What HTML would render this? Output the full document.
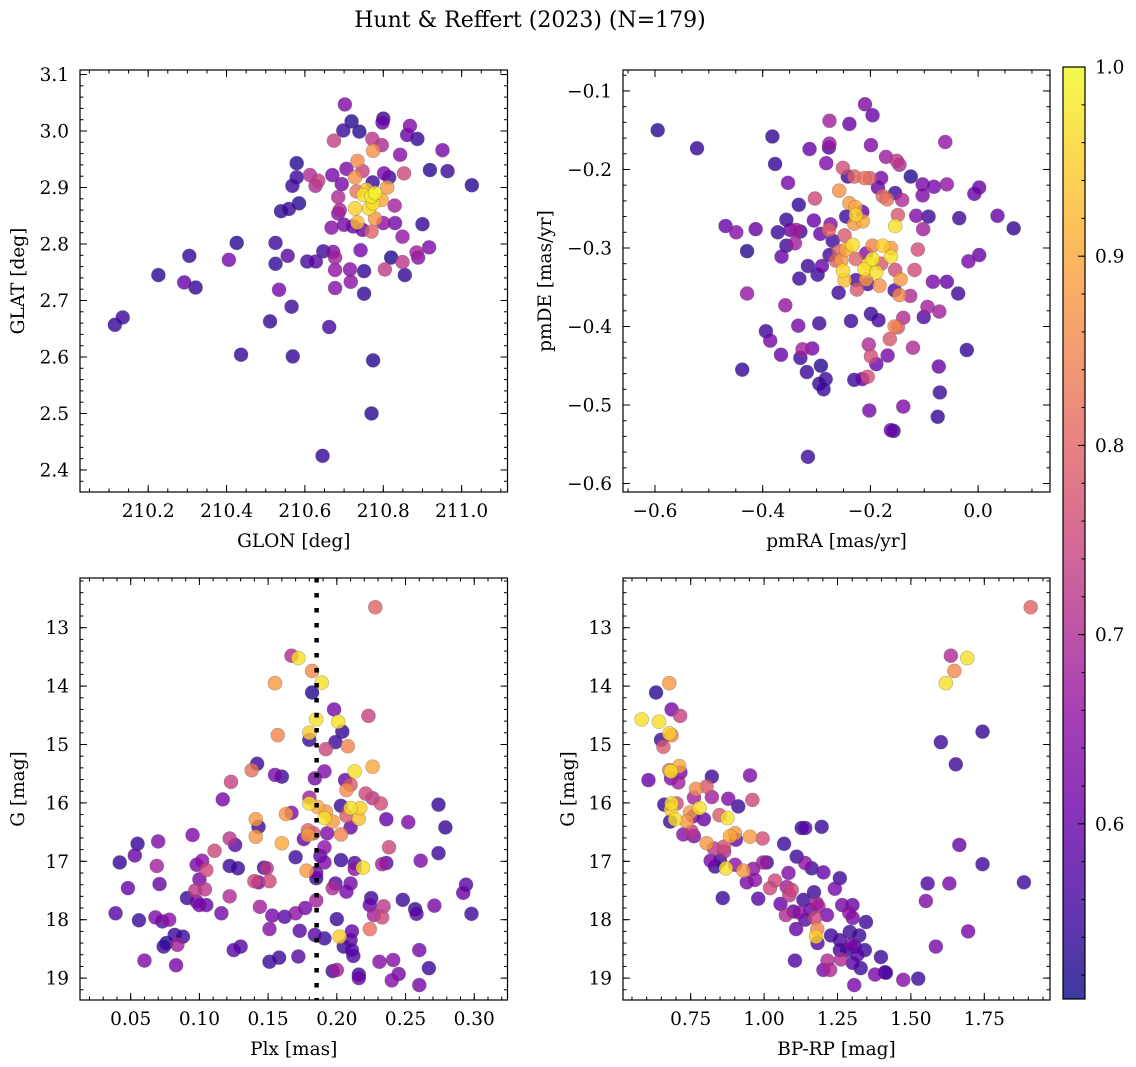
<!DOCTYPE html>
<html><head><meta charset="utf-8"><style>
html,body{margin:0;padding:0;background:#fff;}
svg{display:block;font-family:"DejaVu Serif","Liberation Serif",serif;}
</style></head><body>
<svg id="fig" width="1136" height="1067" viewBox="0 0 1136 1067" xmlns="http://www.w3.org/2000/svg">
<text x="530" y="27" font-size="22" text-anchor="middle">Hunt &amp; Reffert (2023) (N=179)</text>
</svg>
<script>
// ---- Panel 1: GLON vs GLAT ----
const p1Glon=[210.702,210.719,210.800,210.798,210.698,210.739,210.868,210.861,210.887,210.674,210.772,210.796,210.774,210.951,210.843,210.579,210.613,210.634,210.627,210.579,210.568,210.734,210.706,210.747,210.728,210.670,210.694,210.802,210.815,210.853,210.919,210.964,211.026,210.773,210.810,210.749,210.770,210.774,210.764,210.728,210.779,210.757,210.796,210.732,210.685,210.829,210.689,210.685,210.539,210.559,210.585,210.734,210.779,210.800,210.830,210.700,210.668,210.723,210.747,210.770,210.900,210.849,210.426,210.525,210.305,210.406,210.556,210.525,210.606,210.628,210.647,210.672,210.677,210.742,210.820,210.885,210.889,210.917,210.226,210.292,210.321,210.677,210.715,210.751,210.804,210.849,210.855,210.534,210.677,210.717,210.751,210.115,210.135,210.511,210.566,210.662,210.437,210.569,210.774,210.770,210.645];
const p1Glat=[3.047,3.017,3.022,3.015,3.001,2.999,3.009,2.993,2.986,2.983,2.986,2.975,2.965,2.966,2.958,2.943,2.922,2.912,2.903,2.918,2.903,2.947,2.933,2.929,2.918,2.922,2.906,2.925,2.918,2.925,2.931,2.929,2.904,2.909,2.900,2.887,2.884,2.872,2.863,2.863,2.890,2.896,2.878,2.893,2.883,2.868,2.860,2.854,2.858,2.862,2.872,2.838,2.845,2.837,2.837,2.834,2.829,2.831,2.825,2.822,2.835,2.813,2.802,2.802,2.779,2.772,2.779,2.765,2.769,2.769,2.787,2.786,2.776,2.789,2.776,2.785,2.776,2.794,2.745,2.732,2.723,2.754,2.755,2.752,2.755,2.768,2.745,2.719,2.722,2.733,2.712,2.657,2.670,2.663,2.689,2.653,2.604,2.601,2.594,2.500,2.425];
const p1Prob=[.63,.53,.55,.6,.55,.53,.63,.6,.54,.74,.72,.7,.87,.62,.64,.53,.7,.73,.7,.55,.55,.86,.63,.74,.87,.62,.62,.62,.55,.75,.53,.55,.53,.55,.88,.97,.98,.97,.96,.95,.99,.94,.9,.82,.7,.68,.69,.65,.54,.55,.53,.92,.87,.65,.62,.62,.64,.6,.6,.8,.54,.66,.53,.55,.54,.62,.58,.54,.56,.58,.55,.63,.68,.62,.52,.68,.64,.63,.53,.6,.54,.66,.64,.54,.73,.72,.54,.62,.64,.65,.54,.54,.55,.54,.55,.56,.54,.54,.53,.53,.54];

// ---- Panel 2: pmRA vs pmDE ----
const p2PmRA=[-0.210,-0.196,-0.276,-0.239,-0.595,-0.522,-0.382,-0.313,-0.276,-0.277,-0.199,-0.061,-0.377,-0.282,-0.171,-0.151,-0.146,-0.251,-0.242,-0.230,-0.211,-0.201,-0.180,-0.125,-0.353,-0.103,-0.082,-0.058,-0.186,-0.258,-0.154,-0.007,0.002,-0.103,-0.303,-0.177,-0.169,-0.141,-0.333,-0.239,-0.228,-0.227,-0.215,-0.245,-0.149,-0.115,-0.092,-0.035,0.036,-0.356,-0.469,-0.449,-0.413,-0.372,-0.349,-0.338,-0.330,-0.305,-0.274,-0.277,-0.230,-0.214,-0.154,-0.102,0.066,-0.293,-0.248,-0.270,-0.356,-0.340,-0.429,-0.365,-0.276,-0.233,-0.245,-0.196,-0.177,-0.162,-0.112,-0.208,-0.258,-0.264,-0.254,-0.196,-0.162,-0.203,-0.227,-0.180,-0.316,-0.290,-0.018,0.002,-0.118,-0.154,-0.251,-0.211,-0.189,-0.298,-0.332,-0.248,-0.227,-0.208,-0.183,-0.144,-0.205,-0.084,-0.058,-0.429,-0.259,-0.225,-0.155,-0.146,-0.126,-0.037,-0.358,-0.094,-0.072,-0.101,-0.199,-0.185,-0.139,-0.236,-0.295,-0.334,-0.394,-0.386,-0.155,-0.149,-0.164,-0.203,-0.121,-0.021,-0.366,-0.326,-0.308,-0.330,-0.199,-0.168,-0.189,-0.073,-0.438,-0.318,-0.292,-0.283,-0.230,-0.215,-0.205,-0.295,-0.287,-0.071,-0.202,-0.139,-0.075,-0.162,-0.157,-0.316];
const p2PmDE=[-0.117,-0.131,-0.138,-0.142,-0.150,-0.173,-0.158,-0.174,-0.167,-0.172,-0.169,-0.165,-0.193,-0.192,-0.184,-0.189,-0.194,-0.198,-0.209,-0.209,-0.211,-0.211,-0.211,-0.209,-0.217,-0.219,-0.222,-0.219,-0.223,-0.227,-0.230,-0.231,-0.223,-0.233,-0.237,-0.234,-0.238,-0.239,-0.245,-0.243,-0.248,-0.258,-0.254,-0.260,-0.258,-0.259,-0.260,-0.262,-0.259,-0.264,-0.272,-0.280,-0.276,-0.280,-0.277,-0.277,-0.279,-0.265,-0.270,-0.277,-0.269,-0.266,-0.272,-0.276,-0.275,-0.282,-0.284,-0.291,-0.297,-0.294,-0.304,-0.311,-0.309,-0.296,-0.302,-0.297,-0.297,-0.300,-0.302,-0.307,-0.304,-0.316,-0.316,-0.314,-0.311,-0.320,-0.314,-0.320,-0.323,-0.323,-0.317,-0.309,-0.328,-0.328,-0.329,-0.327,-0.331,-0.334,-0.339,-0.341,-0.341,-0.340,-0.348,-0.340,-0.346,-0.343,-0.343,-0.358,-0.357,-0.353,-0.354,-0.360,-0.361,-0.358,-0.373,-0.375,-0.381,-0.388,-0.384,-0.392,-0.389,-0.393,-0.396,-0.399,-0.406,-0.418,-0.400,-0.401,-0.416,-0.423,-0.427,-0.430,-0.436,-0.429,-0.428,-0.440,-0.438,-0.437,-0.448,-0.451,-0.455,-0.458,-0.450,-0.467,-0.468,-0.467,-0.464,-0.473,-0.480,-0.484,-0.507,-0.502,-0.515,-0.532,-0.533,-0.566];
const p2Prob=[.63,.6,.68,.6,.53,.54,.54,.6,.67,.57,.63,.66,.54,.63,.67,.72,.7,.76,.55,.8,.82,.78,.62,.53,.62,.62,.62,.66,.6,.87,.55,.6,.6,.63,.75,.8,.82,.7,.54,.88,.9,.96,.6,.55,.78,.63,.55,.55,.6,.54,.6,.64,.6,.55,.6,.68,.55,.6,.63,.8,.88,.9,.97,.68,.54,.6,.78,.55,.55,.68,.53,.6,.56,.97,.9,.85,.95,.88,.76,.64,.8,.8,.88,.98,.97,.96,.8,.78,.55,.6,.62,.6,.76,.76,.96,.97,.97,.55,.55,.93,.57,.88,.87,.88,.56,.62,.6,.66,.55,.78,.57,.86,.7,.55,.66,.68,.68,.57,.55,.56,.7,.55,.55,.62,.55,.62,.85,.78,.78,.7,.7,.54,.6,.68,.62,.55,.76,.62,.6,.6,.54,.55,.53,.55,.55,.6,.76,.55,.55,.55,.62,.63,.54,.6,.54,.55];

// ---- Panel 3: Plx vs G ----
const p3Plx=[0.228,0.167,0.172,0.182,0.155,0.189,0.182,0.198,0.223,0.185,0.201,0.204,0.157,0.180,0.180,0.199,0.208,0.192,0.142,0.138,0.226,0.213,0.155,0.160,0.191,0.184,0.206,0.210,0.207,0.123,0.221,0.226,0.232,0.117,0.180,0.180,0.186,0.203,0.210,0.217,0.192,0.167,0.163,0.274,0.207,0.216,0.191,0.197,0.236,0.252,0.141,0.143,0.210,0.279,0.179,0.183,0.179,0.193,0.203,0.095,0.122,0.141,0.176,0.055,0.070,0.126,0.160,0.238,0.191,0.111,0.053,0.274,0.170,0.188,0.042,0.069,0.098,0.102,0.105,0.191,0.203,0.213,0.219,0.213,0.233,0.236,0.261,0.122,0.128,0.147,0.149,0.178,0.185,0.185,0.100,0.140,0.143,0.151,0.071,0.048,0.097,0.104,0.199,0.210,0.197,0.207,0.294,0.292,0.091,0.122,0.225,0.224,0.248,0.185,0.098,0.100,0.105,0.144,0.177,0.170,0.234,0.227,0.233,0.257,0.258,0.271,0.298,0.039,0.116,0.153,0.162,0.068,0.056,0.073,0.078,0.200,0.151,0.173,0.224,0.184,0.191,0.202,0.211,0.210,0.082,0.088,0.076,0.074,0.084,0.130,0.125,0.205,0.211,0.212,0.260,0.060,0.151,0.158,0.172,0.231,0.241,0.083,0.197,0.200,0.267,0.216,0.216,0.245,0.240,0.260];
const p3G=[12.65,13.48,13.52,13.74,13.95,13.94,14.11,14.40,14.51,14.57,14.61,14.78,14.84,14.80,14.92,14.96,15.03,15.08,15.33,15.44,15.38,15.46,15.52,15.55,15.46,15.58,15.61,15.69,15.78,15.64,15.84,15.92,16.01,15.94,15.91,16.01,16.07,16.05,16.09,16.09,16.15,16.17,16.19,16.03,16.22,16.27,16.26,16.32,16.28,16.33,16.28,16.41,16.42,16.42,16.47,16.52,16.55,16.52,16.54,16.55,16.61,16.58,16.62,16.70,16.66,16.72,16.69,16.76,16.76,16.82,16.90,16.86,16.93,16.91,17.02,17.08,17.06,16.99,17.15,17.02,16.98,17.03,17.11,17.13,17.05,17.03,16.99,17.08,17.12,17.11,17.12,17.16,17.20,17.29,17.31,17.34,17.36,17.34,17.39,17.46,17.50,17.48,17.38,17.38,17.46,17.52,17.40,17.54,17.63,17.60,17.63,17.75,17.66,17.67,17.69,17.75,17.75,17.78,17.80,17.89,17.77,17.92,17.96,17.82,17.90,17.76,17.90,17.89,17.89,17.93,17.95,17.96,18.01,18.03,18.00,17.99,18.16,18.19,18.16,18.26,18.32,18.29,18.20,18.35,18.26,18.29,18.40,18.46,18.43,18.46,18.52,18.46,18.52,18.62,18.52,18.70,18.72,18.65,18.63,18.72,18.69,18.78,18.88,18.86,18.83,18.94,19.00,18.93,19.04,19.12];
const p3Prob=[.8,.7,.97,.86,.88,.97,.53,.62,.74,.97,.97,.54,.85,.95,.55,.55,.85,.75,.55,.82,.9,.97,.62,.55,.63,.62,.6,.78,.86,.74,.75,.72,.76,.62,.68,.97,.9,.55,.97,.95,.88,.63,.88,.54,.78,.93,.97,.88,.6,.63,.88,.55,.6,.54,.8,.78,.88,.63,.85,.63,.72,.88,.6,.54,.63,.58,.9,.75,.65,.75,.6,.55,.55,.58,.54,.68,.62,.65,.75,.63,.55,.58,.97,.65,.68,.58,.63,.55,.55,.55,.72,.88,.6,.55,.62,.75,.62,.75,.6,.6,.72,.72,.57,.62,.7,.62,.58,.6,.55,.7,.55,.6,.55,.68,.62,.62,.6,.68,.62,.65,.72,.68,.75,.55,.58,.62,.55,.58,.62,.62,.58,.63,.55,.58,.65,.55,.64,.58,.82,.58,.55,.95,.6,.58,.55,.55,.52,.55,.68,.58,.58,.55,.58,.57,.62,.63,.55,.55,.58,.64,.64,.62,.55,.68,.55,.55,.6,.62,.64,.62];

// ---- Panel 4: BP-RP vs G ----
const p4Color=[1.908,1.636,1.692,1.648,1.619,0.677,0.632,0.685,0.714,0.583,0.642,1.744,0.685,0.677,0.649,1.602,0.657,1.653,0.677,0.711,0.683,0.715,0.606,0.683,0.708,0.822,0.952,0.804,0.768,0.761,0.822,0.878,0.960,0.912,0.660,0.702,0.685,0.683,0.780,0.748,0.759,0.795,0.848,0.875,0.736,0.680,0.697,0.753,0.725,0.761,0.901,0.884,0.952,0.995,0.904,1.128,1.140,1.196,0.804,0.829,0.863,0.864,1.068,1.665,0.818,0.833,0.850,0.870,0.901,0.929,0.963,0.997,1.009,1.111,1.140,1.162,1.202,1.083,1.744,0.941,0.969,1.037,1.020,1.077,1.094,1.241,1.258,1.086,0.859,0.980,1.170,1.134,1.056,1.179,1.185,1.266,1.301,1.100,1.120,1.157,1.074,1.140,1.174,1.214,1.290,1.302,1.347,1.109,1.181,1.177,1.182,1.228,1.258,1.292,1.324,1.258,1.281,1.296,1.309,1.318,1.343,1.262,1.302,1.216,1.202,1.225,1.105,1.329,1.398,1.378,1.412,1.415,1.474,1.525,1.307,1.557,1.631,1.885,1.551,1.695,1.585];
const p4G=[12.65,13.48,13.52,13.74,13.95,13.95,14.11,14.40,14.51,14.57,14.61,14.78,14.84,14.81,14.92,14.96,15.04,15.34,15.44,15.37,15.46,15.48,15.61,15.58,15.65,15.55,15.53,15.72,15.76,15.91,15.90,15.93,15.95,16.06,16.03,16.01,16.01,16.11,16.09,16.16,16.23,16.28,16.21,16.26,16.32,16.32,16.28,16.49,16.54,16.57,16.52,16.57,16.58,16.61,16.63,16.43,16.43,16.41,16.69,16.78,16.75,16.83,16.70,16.72,16.99,17.09,16.99,17.12,17.06,17.16,17.13,17.02,17.02,16.92,17.03,17.12,17.19,17.20,17.05,17.36,17.32,17.33,17.46,17.44,17.49,17.47,17.29,17.58,17.63,17.64,17.53,17.66,17.73,17.72,17.77,17.75,17.75,17.86,17.88,17.83,17.92,18.00,17.97,17.92,17.88,17.97,18.04,18.16,18.16,18.29,18.40,18.27,18.35,18.21,18.27,18.52,18.52,18.43,18.46,18.60,18.52,18.68,18.74,18.70,18.86,18.86,18.70,18.83,18.64,18.94,18.90,18.91,19.03,19.01,19.12,17.38,17.38,17.36,17.68,18.20,18.46];
const p4Prob=[.8,.7,.97,.86,.97,.88,.53,.62,.74,.97,.97,.54,.85,.95,.55,.55,.78,.55,.82,.9,.97,.62,.6,.63,.68,.55,.63,.78,.86,.68,.68,.63,.75,.55,.55,.75,.97,.95,.97,.88,.62,.6,.78,.97,.88,.55,.97,.72,.64,.63,.88,.9,.88,.76,.6,.55,.58,.55,.88,.72,.76,.7,.55,.6,.62,.55,.55,.97,.65,.88,.65,.68,.55,.55,.65,.55,.6,.63,.55,.62,.65,.75,.75,.68,.75,.62,.55,.72,.55,.58,.55,.55,.6,.68,.68,.62,.6,.6,.65,.6,.7,.58,.75,.62,.65,.62,.55,.6,.85,.95,.58,.55,.57,.55,.55,.55,.55,.62,.57,.58,.55,.7,.58,.7,.62,.7,.57,.55,.55,.62,.57,.55,.64,.55,.62,.57,.62,.55,.63,.62,.62];

// ---- colour scale ----
const cbTicks=[0.6,0.7,0.8,0.9,1.0];
const cMin=0.5074, cMax=1.0;
const plasmaStops=[[13,8,135],[65,4,157],[106,0,168],[143,13,164],[177,42,144],[204,71,120],[225,100,98],[242,132,75],[252,166,54],[252,206,37],[240,249,33]];
function plasma(t){t=Math.max(0,Math.min(1,t));const f=t*10,i=Math.min(9,Math.floor(f)),r=f-i;const a=plasmaStops[i],b=plasmaStops[i+1];
 return 'rgb('+a.map((v,k)=>Math.round(v+(b[k]-v)*r)).join(',')+')';}
function cmap(v){return plasma((v-cMin)/(cMax-cMin));}

const FS=18.5;
const NS='http://www.w3.org/2000/svg';
const svg=document.getElementById('fig');
function el(tag,attrs,parent){const e=document.createElementNS(NS,tag);for(const k in attrs)e.setAttribute(k,attrs[k]);(parent||svg).appendChild(e);return e;}
function fmt(v,d){const s=Math.abs(v).toFixed(d);return (v<-1e-9?'\u2212':'')+s;}

function panel(name,box,xd,yd,xs,ys,xlab,ylab,xt,yt,xdec,ydec,invY){
 const g=el('g',{});
 
 
 const [L,T,R,B]=box;
 const X=v=>L+(v-xd[0])/(xd[1]-xd[0])*(R-L);
 const Y=invY? v=>T+(v-yd[0])/(yd[1]-yd[0])*(B-T) : v=>B-(v-yd[0])/(yd[1]-yd[0])*(B-T);
 const clip=el('clipPath',{id:name+'-clip'},g);el('rect',{x:L,y:T,width:R-L,height:B-T},clip);
 const pg=el('g',{'clip-path':'url(#'+name+'-clip)'},g);
 
 
 return {g,pg,X,Y,L,T,R,B,finish(){
  const tg=el('g',{stroke:'#000','stroke-width':1},g);
  
  
  const mk=(lo,hi,st)=>{const a=[];for(let v=Math.ceil(lo/st-1e-6)*st;v<=hi+1e-9;v+=st)a.push(+v.toFixed(6));return a;};
  mk(xd[0],xd[1],xs[1]).forEach(v=>{const x=X(v);el('line',{x1:x,x2:x,y1:B,y2:B-3.5},tg);el('line',{x1:x,x2:x,y1:T,y2:T+3.5},tg);});
  mk(yd[0],yd[1],ys[1]).forEach(v=>{const y=Y(v);el('line',{x1:L,x2:L+3.5,y1:y,y2:y},tg);el('line',{x1:R,x2:R-3.5,y1:y,y2:y},tg);});
  xt.forEach(v=>{const x=X(v);el('line',{x1:x,x2:x,y1:B,y2:B-7},tg);el('line',{x1:x,x2:x,y1:T,y2:T+7},tg);
   const t=el('text',{x:x,y:B+25,'font-size':FS,'text-anchor':'middle'},g);t.textContent=fmt(v,xdec);
   
   });
  yt.forEach(v=>{const y=Y(v);el('line',{x1:L,x2:L+7,y1:y,y2:y},tg);el('line',{x1:R,x2:R-7,y1:y,y2:y},tg);
   const t=el('text',{x:L-11,y:y+6.5,'font-size':FS,'text-anchor':'end'},g);t.textContent=fmt(v,ydec);
   
   });
  const fr=el('rect',{x:L,y:T,width:R-L,height:B-T,fill:'none',stroke:'#000','stroke-width':1.2},g);
  
  
  const xl=el('text',{x:(L+R)/2,y:B+55,'font-size':FS,'text-anchor':'middle'},g);xl.textContent=xlab;
  
  
  const yl=el('text',{x:0,y:0,'font-size':FS,'text-anchor':'middle',transform:'translate('+ylab[1]+','+((T+B)/2)+') rotate(-90)'},g);yl.textContent=ylab[0];
  
  
 }};
}
function scatter(P,xs,ys,cs){
 const idx=cs.map((c,i)=>i).sort((a,b)=>cs[a]-cs[b]);
 idx.forEach(i=>{const c=el('circle',{cx:P.X(xs[i]),cy:P.Y(ys[i]),r:7,fill:cmap(cs[i]),'fill-opacity':0.8,stroke:'rgba(90,90,90,0.45)','stroke-width':0.6},P.pg);
  
  });
}

const P1=panel('glon-glat-panel',[80,70,507.5,492],[210.026,211.117],[2.361,3.108],[0,0.05],[0,0.02],'GLON [deg]',['GLAT [deg]',24],[210.2,210.4,210.6,210.8,211.0],[2.4,2.5,2.6,2.7,2.8,2.9,3.0,3.1],1,1,false);
scatter(P1,p1Glon,p1Glat,p1Prob);P1.finish();

const P2=panel('pm-panel',[623,70,1050,492],[-0.6594,0.1335],[-0.6108,-0.0733],[0,0.05],[0,0.02],'pmRA [mas/yr]',['pmDE [mas/yr]',551],[-0.6,-0.4,-0.2,0.0],[-0.6,-0.5,-0.4,-0.3,-0.2,-0.1],1,1,false);
scatter(P2,p2PmRA,p2PmDE,p2Prob);P2.finish();

const P3=panel('plx-g-panel',[80,578,507.5,1000],[0.0131,0.3242],[12.149,19.375],[0,0.01],[0,0.2],'Plx [mas]',['G [mag]',24],[0.05,0.10,0.15,0.20,0.25,0.30],[13,14,15,16,17,18,19],2,0,true);
scatter(P3,p3Plx,p3G,p3Prob);
const plxRef=0.1853;
const dl=el('line',{x1:P3.X(plxRef),x2:P3.X(plxRef),y1:578,y2:1000,stroke:'#000','stroke-width':4.5,'stroke-dasharray':'4.5 10.5'},P3.pg);


P3.finish();

const P4=panel('cmd-panel',[623,578,1050,1000],[0.5194,1.9738],[12.149,19.375],[0,0.05],[0,0.2],'BP-RP [mag]',['G [mag]',574],[0.75,1.00,1.25,1.50,1.75],[13,14,15,16,17,18,19],2,0,true);
scatter(P4,p4Color,p4G,p4Prob);P4.finish();

// colorbar
const cb=el('g',{});


const defs=el('defs',{},cb);
const lg=el('linearGradient',{id:'cbg',x1:0,y1:1,x2:0,y2:0},defs);
for(let i=0;i<=20;i++){el('stop',{offset:i/20,'stop-color':plasma(i/20)},lg);}
const cL=1063,cR=1085,cT=67,cB=999;
const CY=v=>cB-(v-cMin)/(cMax-cMin)*(cB-cT);
el('rect',{x:cL,y:cT,width:cR-cL,height:cB-cT,fill:'url(#cbg)','fill-opacity':0.8},cb);
for(let v=0.52;v<=1.0001;v+=0.02){const y=CY(v);el('line',{x1:cR,x2:cR-3.5,y1:y,y2:y,stroke:'#000'},cb);}
cbTicks.forEach(v=>{const y=CY(v);el('line',{x1:cR,x2:cR-7,y1:y,y2:y,stroke:'#000'},cb);
 const t=el('text',{x:cR+10,y:y+6.5,'font-size':FS},cb);t.textContent=v.toFixed(1);
 
 });
el('rect',{x:cL,y:cT,width:cR-cL,height:cB-cT,fill:'none',stroke:'#000','stroke-width':1.2},cb);
</script>
</body></html>
